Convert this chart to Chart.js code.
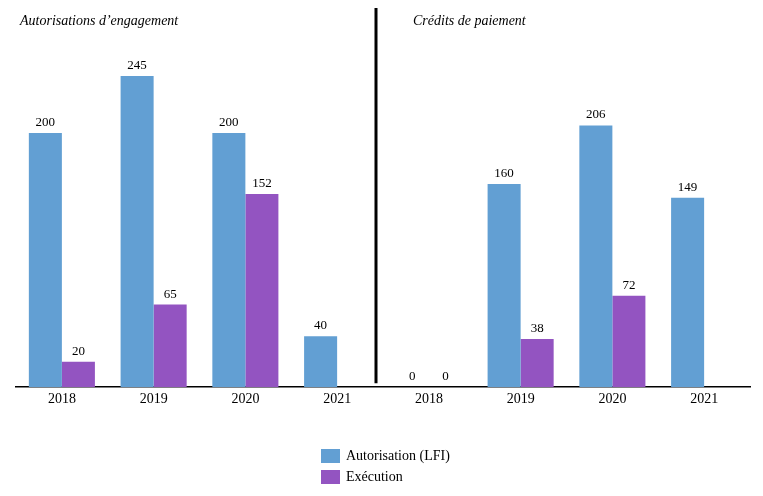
<!DOCTYPE html>
<html lang="fr">
<head>
<meta charset="UTF-8">
<title>AE / CP</title>
<style>
    body { margin: 0; background: #fff; }
    .chart-container { position: relative; width: 763px; height: 496px; }
    #legend {
        position: absolute; left: 321px; top: 445px;
        font-family: "Liberation Serif", serif; font-size: 14px; color: #000;
    }
    #legend div { display: flex; align-items: center; height: 21px; }
    #legend span.box { display: inline-block; width: 19px; height: 14px; margin-right: 6px; }
</style>
</head>
<body>
<div class="chart-container">
    <canvas id="myChart" width="763" height="496"></canvas>
    <div id="legend"></div>
</div>

<script src="https://cdn.jsdelivr.net/npm/chart.js@4.4.0/dist/chart.umd.min.js"></script>
<script>
    // two panels side by side: AE then CP
    const years = ['2018', '2019', '2020', '2021', '2018', '2019', '2020', '2021'];
    const autorisation = [200, 245, 200, 40, 0, 160, 206, 149];
    const execution = [20, 65, 152, null, 0, 38, 72, null];
    const panelTitles = ['Autorisations d\u2019engagement', 'Cr\u00e9dits de paiement'];

    const blue = '#629fd3';
    const purple = '#9354c1';
    const serif = '"Liberation Serif", serif';

    // value labels above each bar
    const valueLabels = {
        id: 'valueLabels',
        afterDatasetsDraw(chart) {
            const ctx = chart.ctx;
            ctx.save();
            ctx.fillStyle = '#000';
            ctx.font = '13px ' + serif;
            ctx.textAlign = 'center';
            ctx.textBaseline = 'bottom';
            chart.data.datasets.forEach((ds, i) => {
                chart.getDatasetMeta(i).data.forEach((bar, j) => {
                    if (ds.data[j] === null) return;
                    ctx.fillText(ds.data[j], bar.x, bar.y - 4);
                });
            });
            ctx.restore();
        }
    };

    // separator line and panel titles
    const panels = {
        id: 'panels',
        afterDraw(chart) {
            const ctx = chart.ctx;
            const area = chart.chartArea;
            ctx.save();
            ctx.strokeStyle = '#000';
            ctx.lineWidth = 3;
            ctx.beginPath();
            ctx.moveTo(376, 8);
            ctx.lineTo(376, area.bottom - 4);
            ctx.stroke();
            ctx.fillStyle = '#000';
            ctx.font = 'italic 14px ' + serif;
            ctx.textBaseline = 'alphabetic';
            ctx.fillText(panelTitles[0], 20, 25);
            ctx.fillText(panelTitles[1], 413, 25);
            ctx.restore();
        }
    };

    const ctx = document.getElementById('myChart').getContext('2d');
    const myChart = new Chart(ctx, {
        type: 'bar',
        data: {
            labels: years,
            datasets: [{
                label: 'Autorisation (LFI)',
                backgroundColor: blue,
                borderWidth: 0,
                categoryPercentage: 0.72,
                barPercentage: 1,
                data: autorisation
            }, {
                label: 'Ex\u00e9cution',
                backgroundColor: purple,
                borderWidth: 0,
                categoryPercentage: 0.72,
                barPercentage: 1,
                data: execution
            }]
        },
        options: {
            responsive: false,
            animation: false,
            layout: { padding: { left: 16, right: 13, top: 6, bottom: 84 } },
            scales: {
                x: {
                    grid: { display: false, drawTicks: false },
                    border: { display: true, color: '#000', width: 1.5 },
                    ticks: { color: '#000', font: { family: serif, size: 14 }, padding: 4 }
                },
                y: {
                    display: false,
                    min: 0,
                    max: 300
                }
            },
            plugins: {
                legend: { display: false },
                tooltip: { enabled: false }
            }
        },
        plugins: [valueLabels, panels]
    });

    // legend stacked vertically
    const legend = document.getElementById('legend');
    myChart.data.datasets.forEach(ds => {
        const row = document.createElement('div');
        row.innerHTML = '<span class="box" style="background:' + ds.backgroundColor + '"></span>' + ds.label;
        legend.appendChild(row);
    });
</script>
</body>
</html>
